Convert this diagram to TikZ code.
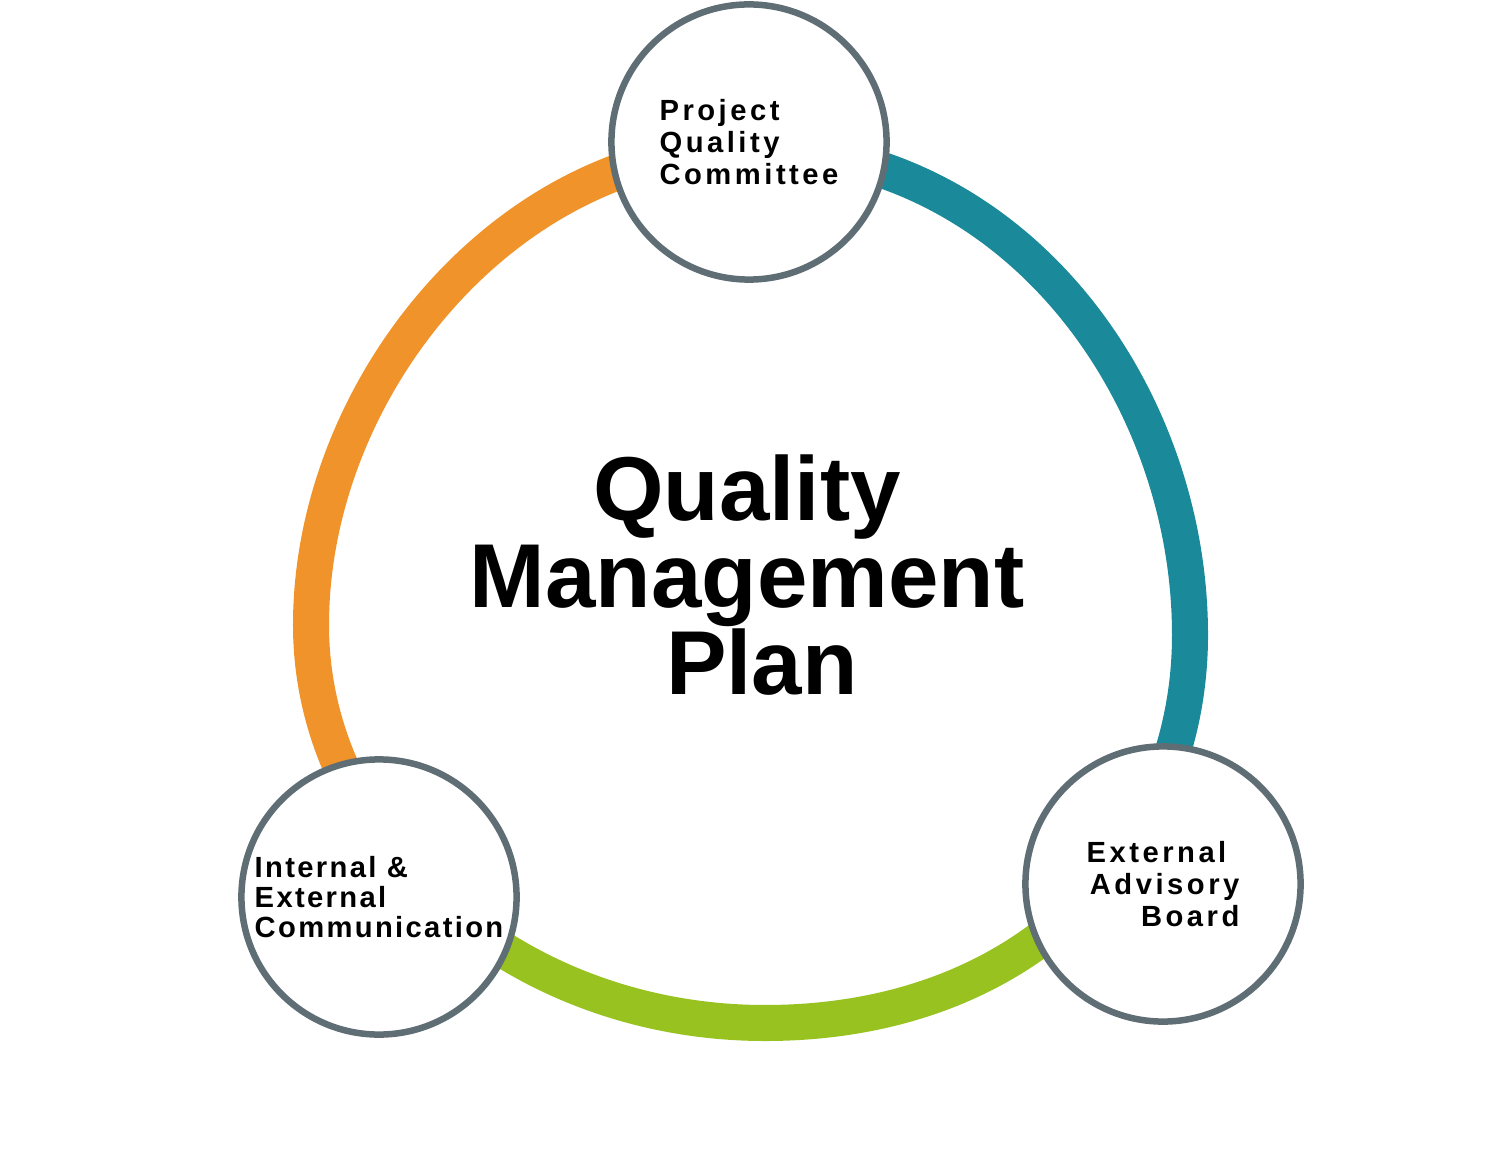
\documentclass[tikz,border=0pt]{standalone}
\usepackage{fontspec}
\newfontfamily\labelfont[LetterSpace=12]{Liberation Sans}
\newfontfamily\labelfontnarrow[LetterSpace=8]{Liberation Sans}
\newfontfamily\titlefont{Liberation Sans}
\usetikzlibrary{calc}
\definecolor{ringorange}{HTML}{F1932B}
\definecolor{ringteal}{HTML}{1A8999}
\definecolor{ringgreen}{HTML}{97C21F}
\definecolor{rimgray}{HTML}{5F6E75}

\begin{document}
\begin{tikzpicture}[x=0.01cm, y=-0.01cm,
  ring/.style={line width=0.36cm},
  hub/.style={circle, draw=rimgray, line width=0.065cm, fill=white,
    minimum size=2.75cm, inner sep=0pt,
    font={\labelfont\bfseries\fontsize{8.3}{9.1}\selectfont}}]
\useasboundingbox (0,0) rectangle (1500,1152);

\coordinate (Ctop) at (749,142);
\coordinate (Cleft) at (379,897);
\coordinate (Cright) at (1163,884);
\coordinate (Cmid) at (749,628);

\coordinate (T) at (749,148);
\coordinate (L) at (311,625);
\coordinate (B) at (765,1023);
\coordinate (R) at (1190,635);

\def\ringpath{(T) .. controls (508,148) and (311,386) .. (L)
  .. controls (311,844) and (515,1023) .. (B)
  .. controls (1028,1023) and (1190,848) .. (R)
  .. controls (1190,391) and (1014,148) .. (T) -- cycle}

% one colour per sector, split under the hubs
\begin{scope}
  \clip (Cmid) -- (749,-300) -- (-500,-300) -- ($(Cmid)!3!(Cleft)$) -- cycle;
  \draw[ring, ringorange] \ringpath;
\end{scope}
\begin{scope}
  \clip (Cmid) -- (749,-300) -- (2200,-300) -- ($(Cmid)!3!(Cright)$) -- cycle;
  \draw[ring, ringteal] \ringpath;
\end{scope}
\begin{scope}
  \clip (Cmid) -- ($(Cmid)!3!(Cleft)$) -- ($(Cmid)!3!(Cright)$) -- cycle;
  \draw[ring, ringgreen] \ringpath;
\end{scope}

\node[hub, align=left] (pqc) at (Ctop) {Project\\Quality\\Committee};
\node[hub, align=left, font={\labelfontnarrow\bfseries\fontsize{8.3}{8.6}\selectfont}] (iec) at (Cleft)
  {Internal \&\\External\\Communication};
\node[hub, align=right] (eab) at (Cright)
  {External\hspace*{0.13cm}\\Advisory\hspace*{0.13cm}\\Board};

\node[align=center, inner sep=0pt, font={\titlefont\bfseries\fontsize{25.8}{24.8}\selectfont}] (qmp) at (747,575)
  {Quality\\Management\\\hspace*{0.3cm}Plan};
\end{tikzpicture}
\end{document}
